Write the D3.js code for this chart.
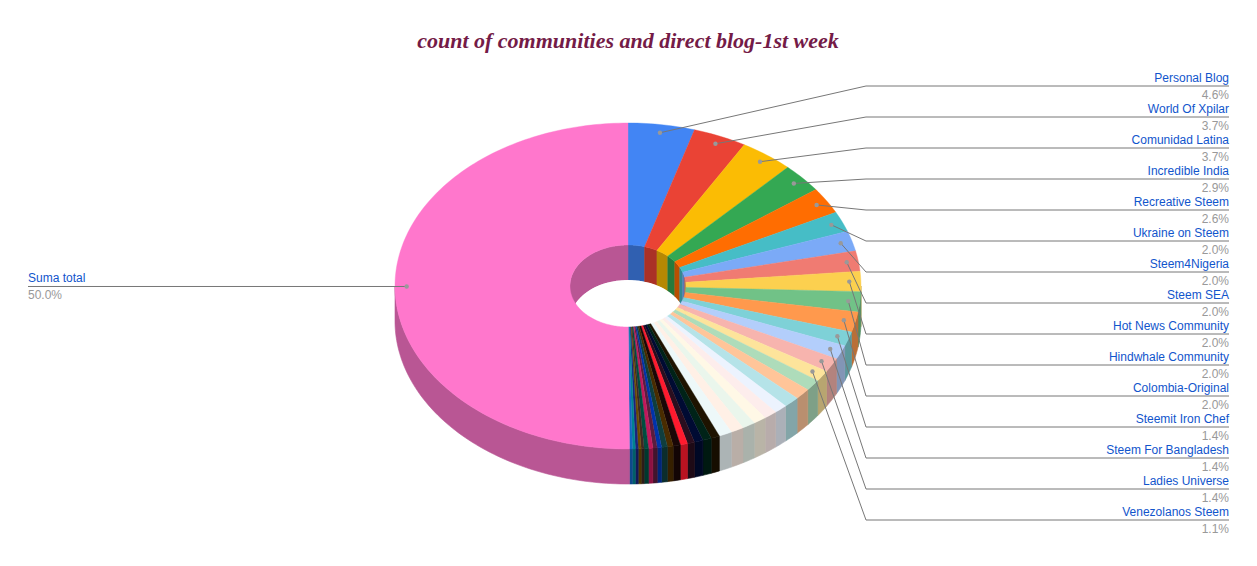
<!DOCTYPE html><html><head><meta charset="utf-8">
<script src="https://cdn.jsdelivr.net/npm/d3@7"></script>
<style>body{margin:0;background:#fff}</style></head><body>
<svg id="c" width="1257" height="566"></svg>
<script>
const categories = ["Personal Blog","World Of Xpilar","Comunidad Latina","Incredible India","Recreative Steem","Ukraine on Steem","Steem4Nigeria","Steem SEA","Hot News Community","Hindwhale Community","Colombia-Original","Steemit Iron Chef","Steem For Bangladesh","Ladies Universe","Venezolanos Steem",
"o1","o2","o3","o4","o5","o6","o7","o8","o9","o10","o11","o12","o13","o14","o15","o16","o17","o18","o19","o20","o21","o22","o23","o24","o25","o26","Suma total"];
const values = [4.6,3.7,3.7,2.9,2.6,2.0,2.0,2.0,2.0,2.0,2.0,1.4,1.4,1.4,1.1,
1.1,1.1,1.1,0.9,0.9,0.9,0.9,0.9,0.9,0.6,0.6,0.6,0.5,0.5,0.5,0.4,0.4,0.3,0.3,0.3,0.3,0.2,0.2,0.2,0.2,0.2,50.0];
const colors = ["#4285f4","#ea4335","#fbbc04","#34a853","#ff6d01","#46bdc6","#7baaf7","#f07b72","#fcd04f","#71c287","#ff994d","#7ed1d7","#b3cefb","#f7b4ae","#fde49b","#aedcba",
"#ffc599","#b5e3e8","#ecf3fe","#fdedec","#fff8e6","#eaf6ec","#fff0e6","#edf8f9","#1e1300","#002318","#000b33","#2a0e1f","#ff1a2e","#1a0707","#4a2c00","#0f3e3e","#0033aa","#5a1d3e","#c2185b","#004d40","#3e2723","#6a4c00","#1a237e","#00838f","#1565c0","#ff77cc"];
const labeled = 15;
const title = "count of communities and direct blog-1st week";

const svg = d3.select("#c");
const cx=628, cy=286, rx=233, ry=163, irx=58, iry=41, depth=35;
const pie = d3.pie().sort(null).value(d=>d.v);
const arcs = pie(values.map((v,i)=>({v,i})));
const px=(a,k=1)=>cx+rx*k*Math.sin(a), py=(a,k=1)=>cy-ry*k*Math.cos(a);
const ix=a=>cx+irx*Math.sin(a), iy=a=>cy-iry*Math.cos(a);
function samp(a0,a1){const n=Math.max(2,Math.ceil(Math.abs(a1-a0)/0.02));return d3.range(n+1).map(j=>a0+(a1-a0)*j/n);}
const line=d3.line();
const dark=c=>d3.color(c).darker(0.9).formatHex();
const g=svg.append("g");
// inner walls (far side of hole)
arcs.forEach(a=>{
  const segs=[[a.startAngle,a.endAngle]];
  segs.forEach(([s,e])=>{
    // visible where angle in [-90,90] i.e. [270,360] or [0,90]
    [[0,Math.PI/2],[1.5*Math.PI,2*Math.PI]].forEach(([l,h])=>{
      const a0=Math.max(s,l),a1=Math.min(e,h); if(a1<=a0)return;
      const t=samp(a0,a1).map(x=>[ix(x),iy(x)]);
      const b=samp(a1,a0).map(x=>[ix(x),iy(x)+depth]);
      g.append("path").attr("d",line(t.concat(b))+"Z").attr("fill",dark(colors[a.index])).attr("stroke",dark(colors[a.index])).attr("stroke-width",0.5);
    });
  });
});
// hole floor
const cp=svg.append("defs").append("clipPath").attr("id","hc");
cp.append("ellipse").attr("cx",cx).attr("cy",cy).attr("rx",irx).attr("ry",iry);
g.append("ellipse").attr("cx",cx).attr("cy",cy+depth).attr("rx",irx).attr("ry",iry).attr("fill","#fff").attr("clip-path","url(#hc)");
// outer walls
arcs.forEach(a=>{
  const a0=Math.max(a.startAngle,Math.PI/2),a1=Math.min(a.endAngle,1.5*Math.PI); if(a1<=a0)return;
  const t=samp(a0,a1).map(x=>[px(x),py(x)]);
  const b=samp(a1,a0).map(x=>[px(x),py(x)+depth]);
  g.append("path").attr("d",line(t.concat(b))+"Z").attr("fill",dark(colors[a.index])).attr("stroke",dark(colors[a.index])).attr("stroke-width",0.6);
});
// top faces
arcs.forEach(a=>{
  const o=samp(a.startAngle,a.endAngle).map(x=>[px(x),py(x)]);
  const i=samp(a.endAngle,a.startAngle).map(x=>[ix(x),iy(x)]);
  g.append("path").attr("d",line(o.concat(i))+"Z").attr("fill",colors[a.index]).attr("stroke",colors[a.index]).attr("stroke-width",0.4);
});
// title
svg.append("text").attr("x",628).attr("y",48).attr("text-anchor","middle")
 .attr("font-family","Liberation Serif, DejaVu Serif, serif").attr("font-style","italic").attr("font-weight","bold")
 .attr("font-size",22).attr("fill","#741b47").text(title);
// labels
const lf="Liberation Sans, Arial, sans-serif";
const ly=d3.scaleLinear().domain([0,1]).range([86,117]);
arcs.slice(0,labeled).forEach((a,k)=>{
  const m=(a.startAngle+a.endAngle)/2, dx=px(m,0.95), dy=py(m,0.95), y=ly(k);
  svg.append("polyline").attr("points",`${dx},${dy} 866,${y} 1229,${y}`).attr("fill","none").attr("stroke","#777").attr("stroke-width",1);
  svg.append("circle").attr("cx",dx).attr("cy",dy).attr("r",2.2).attr("fill","#999");
  svg.append("text").attr("x",1229).attr("y",y-4).attr("text-anchor","end").attr("font-family",lf).attr("font-size",12).attr("fill","#1155cc").text(categories[a.index]);
  svg.append("text").attr("x",1229).attr("y",y+13).attr("text-anchor","end").attr("font-family",lf).attr("font-size",12).attr("fill","#999").text(values[a.index].toFixed(1)+"%");
});
{
  const a=arcs[arcs.length-1], m=(a.startAngle+a.endAngle)/2, dx=px(m,0.95), dy=py(m,0.95);
  svg.append("polyline").attr("points",`28,${dy} ${dx},${dy}`).attr("fill","none").attr("stroke","#777");
  svg.append("circle").attr("cx",dx).attr("cy",dy).attr("r",2.2).attr("fill","#999");
  svg.append("text").attr("x",28).attr("y",dy-4).attr("font-family",lf).attr("font-size",12).attr("fill","#1155cc").text(categories[a.index]);
  svg.append("text").attr("x",28).attr("y",dy+13).attr("font-family",lf).attr("font-size",12).attr("fill","#999").text(values[a.index].toFixed(1)+"%");
}
</script></body></html>
